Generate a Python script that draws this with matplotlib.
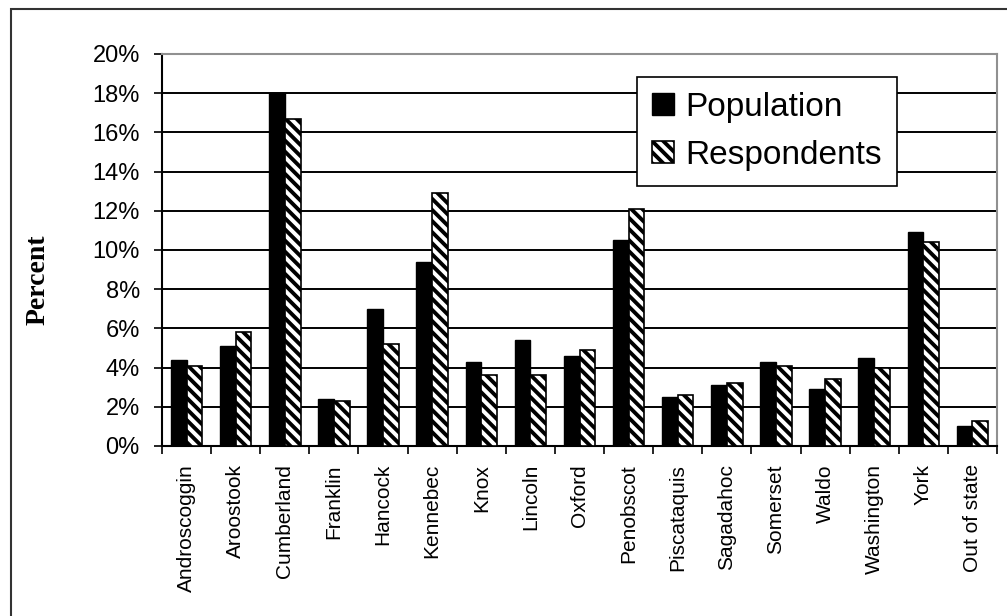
import numpy as np
import matplotlib
matplotlib.use("Agg")
import matplotlib.pyplot as plt
from matplotlib.patches import Rectangle

counties = ["Androscoggin", "Aroostook", "Cumberland", "Franklin", "Hancock",
            "Kennebec", "Knox", "Lincoln", "Oxford", "Penobscot", "Piscataquis",
            "Sagadahoc", "Somerset", "Waldo", "Washington", "York", "Out of state"]
population = [4.4, 5.1, 18.0, 2.4, 7.0, 9.4, 4.3, 5.4, 4.6, 10.5, 2.5,
              3.1, 4.3, 2.9, 4.5, 10.9, 1.0]
respondents = [4.1, 5.8, 16.7, 2.3, 5.2, 12.9, 3.6, 3.6, 4.9, 12.1, 2.6,
               3.2, 4.1, 3.4, 4.0, 10.4, 1.3]
yticks = [0, 2, 4, 6, 8, 10, 12, 14, 16, 18, 20]
ytick_labels = [f"{v}%" for v in yticks]

plt.rcParams['font.family'] = ['Liberation Sans', 'DejaVu Sans']
plt.rcParams['hatch.linewidth'] = 2.8
plt.rcParams['hatch.color'] = 'black'

fig = plt.figure(figsize=(10.07, 6.16), dpi=100)
ax = fig.add_axes([162/1007, 1 - 446/616, (997 - 162)/1007, (446 - 54)/616])

x = np.arange(len(counties))
w = 0.32
ax.bar(x - w/2, population, w, color='black', edgecolor='black', linewidth=1,
       zorder=3, label='Population')
ax.bar(x + w/2, respondents, w, color='white', edgecolor='black', linewidth=1.2,
       hatch='\\\\\\', zorder=3, label='Respondents')

ax.set_xlim(-0.5, len(counties) - 0.5)
ax.set_ylim(0, 20)
ax.set_yticks(yticks)
ax.set_yticklabels(ytick_labels, fontsize=17)
ax.set_xticks(x)
ax.set_xticklabels(counties, rotation=90, fontsize=15)
ax.set_xticks(np.arange(-0.5, len(counties)), minor=True)
ax.tick_params(axis='x', which='major', length=0, pad=13)
ax.tick_params(axis='x', which='minor', length=6, width=1.2, direction='out')
ax.tick_params(axis='y', length=6, width=1.2, direction='out', pad=10)

ax.yaxis.grid(True, color='black', linewidth=1.4, zorder=0)
ax.set_axisbelow(True)
ax.get_ygridlines()[-1].set_visible(False)

for s in ['left', 'bottom']:
    ax.spines[s].set_color('black')
    ax.spines[s].set_linewidth(1.5)
for s in ['top', 'right']:
    ax.spines[s].set_color('#909090')
    ax.spines[s].set_linewidth(1.5)

leg = ax.legend(loc='upper left', bbox_to_anchor=(637/1007, 1 - 77/616),
                bbox_transform=fig.transFigure, fontsize=24, frameon=True,
                fancybox=False, shadow=False, handlelength=0.65, handleheight=0.65,
                handletextpad=0.35, borderpad=0.45, labelspacing=0.5,
                borderaxespad=0, framealpha=1)
leg.get_frame().set_edgecolor('black')
leg.get_frame().set_linewidth(1.2)
leg.set_zorder(5)

fig.text(38/1007, 1 - 280/616, "Percent", rotation=90, ha='center', va='center',
         fontsize=20, fontweight='bold', family='Liberation Serif')

# outer chart border (cut off at right and bottom)
fig.patches.append(Rectangle((11/1007, -0.1), 1.2, 1 - 9/616 + 0.1,
                             transform=fig.transFigure, fill=False,
                             edgecolor='#333333', linewidth=1.5))

fig.savefig("out.png", dpi=100)
